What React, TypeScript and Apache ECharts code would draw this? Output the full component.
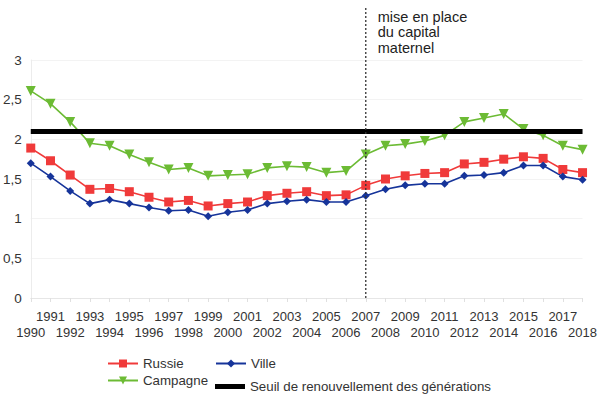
import { useEffect, useRef } from 'react';
import * as echarts from 'echarts';

const years = ['1990','1991','1992','1993','1994','1995','1996','1997','1998','1999','2000','2001','2002','2003','2004','2005','2006','2007','2008','2009','2010','2011','2012','2013','2014','2015','2016','2017','2018'];
const russie = [1.89,1.73,1.55,1.37,1.38,1.34,1.27,1.21,1.23,1.16,1.19,1.21,1.29,1.32,1.34,1.29,1.30,1.42,1.50,1.54,1.57,1.58,1.69,1.71,1.75,1.78,1.76,1.62,1.58];
const ville = [1.70,1.53,1.35,1.19,1.24,1.19,1.14,1.10,1.11,1.03,1.08,1.11,1.19,1.22,1.24,1.21,1.21,1.29,1.37,1.42,1.44,1.44,1.54,1.55,1.58,1.67,1.67,1.53,1.49];
const campagne = [2.61,2.45,2.22,1.95,1.92,1.81,1.71,1.62,1.64,1.54,1.55,1.56,1.64,1.66,1.65,1.58,1.60,1.81,1.92,1.94,1.98,2.05,2.22,2.27,2.32,2.13,2.05,1.92,1.87];
const THRESHOLD = 2.1;
const EVENT_YEAR = '2007';
const annotationLines = ['mise en place', 'du capital', 'maternel'];
const seriesNames = ['Russie', 'Ville', 'Campagne', 'Seuil de renouvellement des générations'];

const FONT = "'Liberation Sans', Arial, sans-serif";

export default function App() {
  const ref = useRef<HTMLDivElement>(null);
  useEffect(() => {
    if (!ref.current) return;
    const chart = echarts.init(ref.current, undefined, { renderer: 'svg' });
    const textStyle = { fontFamily: FONT, fontSize: 13, color: '#333' };
    const legendBase = {
      orient: 'vertical',
      padding: 0,
      itemWidth: 30,
      itemHeight: 10,
      itemGap: 4,
      textStyle: { ...textStyle, fontSize: 13.3 },
    };
    chart.setOption({
      animation: false,
      textStyle: { fontFamily: FONT },
      grid: { left: 30, right: 17, top: 60, bottom: 101, containLabel: false },
      xAxis: {
        type: 'category',
        data: years,
        boundaryGap: false,
        axisLine: { show: true, lineStyle: { color: '#e6e6e6' } },
        axisTick: { show: true, length: 4, lineStyle: { color: '#e0e0e0' } },
        axisLabel: {
          ...textStyle,
          interval: 0,
          margin: 10,
          lineHeight: 16,
          formatter: (v: string, i: number) => (i % 2 === 0 ? '\n' + v : v),
        },
        splitLine: { show: false },
      },
      yAxis: {
        type: 'value',
        min: 0,
        max: 3,
        interval: 0.5,
        axisLine: { show: true, lineStyle: { color: '#ececec' } },
        axisTick: { show: false },
        axisLabel: {
          ...textStyle,
          fontSize: 13.5,
          margin: 9,
          formatter: (v: number) => String(v).replace('.', ','),
        },
        splitLine: { show: true, lineStyle: { color: '#f3f3f3' } },
      },
      legend: [
        { ...legendBase, left: 107, top: 357, data: [seriesNames[0], seriesNames[2]] },
        { ...legendBase, left: 215, top: 357, data: [seriesNames[1]] },
        {
          ...legendBase,
          left: 215,
          top: 380,
          itemHeight: 5,
          icon: 'rect',
          data: [seriesNames[3]],
        },
      ],
      series: [
        {
          name: seriesNames[3],
          type: 'line',
          data: [],
          symbol: 'none',
          itemStyle: { color: '#000' },
          lineStyle: { color: '#000', width: 5 },
          markLine: {
            silent: true,
            symbol: 'none',
            label: { show: false },
            lineStyle: { color: '#000', width: 5, type: 'solid' },
            data: [{ yAxis: THRESHOLD }],
          },
          z: 1,
        },
        {
          name: seriesNames[2],
          type: 'line',
          data: campagne,
          symbol: 'triangle',
          symbolRotate: 180,
          symbolSize: 10,
          itemStyle: { color: '#6cbb34' },
          lineStyle: { color: '#6cbb34', width: 1.6 },
          z: 3,
        },
        {
          name: seriesNames[0],
          type: 'line',
          data: russie,
          symbol: 'rect',
          symbolSize: 9,
          itemStyle: { color: '#f03a3a' },
          lineStyle: { color: '#f03a3a', width: 1.6 },
          z: 3,
        },
        {
          name: seriesNames[1],
          type: 'line',
          data: ville,
          symbol: 'diamond',
          symbolSize: 8,
          itemStyle: { color: '#16349a' },
          lineStyle: { color: '#16349a', width: 1.6 },
          z: 3,
        },
      ],
    });

    const x = chart.convertToPixel({ xAxisIndex: 0 }, EVENT_YEAR) as number;
    const yBottom = chart.convertToPixel({ yAxisIndex: 0 }, 0) as number;
    chart.setOption({
      graphic: [
        {
          type: 'line',
          shape: { x1: x, y1: 8, x2: x, y2: yBottom },
          style: { stroke: '#333', lineWidth: 1.3, lineDash: [2, 2] },
          z: 10,
        },
        {
          type: 'text',
          x: x + 12,
          y: 9,
          style: {
            text: annotationLines.join('\n'),
            fontFamily: FONT,
            fontSize: 14.5,
            fill: '#222',
            lineHeight: 15.5,
          },
          z: 10,
        },
      ],
    });

    return () => chart.dispose();
  }, []);
  return <div ref={ref} style={{ width: 600, height: 399, position: 'absolute', left: 0, top: 0, background: '#fff' }} />;
}
